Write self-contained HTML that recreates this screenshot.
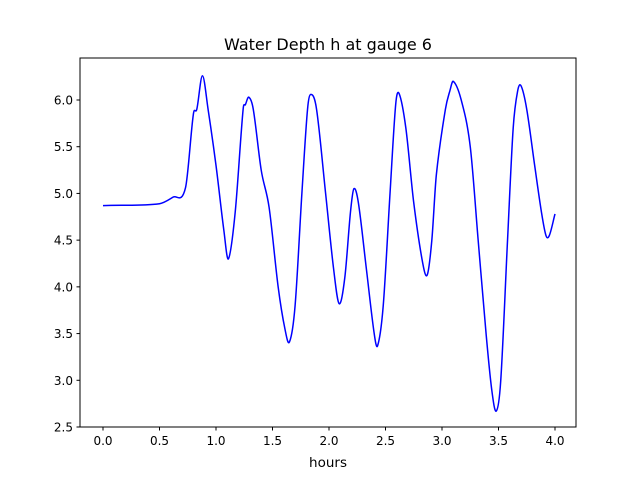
<!DOCTYPE html>
<html><head><meta charset="utf-8"><style>
body{margin:0;background:#fff;}
svg{display:block;font-family:"DejaVu Sans","Liberation Sans",sans-serif;}
</style></head><body>
<svg id="chart" width="640" height="480" viewBox="0 0 640 480" xmlns="http://www.w3.org/2000/svg">
<rect width="640" height="480" fill="#fff"/>
<text x="328" y="50" font-size="16" text-anchor="middle">Water Depth h at gauge 6</text>
<g id="plot"></g>
<rect x="80" y="58" width="496" height="369" fill="none" stroke="#000" stroke-width="1"/>
<text x="328" y="467" font-size="13.5" text-anchor="middle">hours</text>
</svg>
<script>
const hours=[0,0.5,0.62,0.73,0.8,0.83,0.88,0.93,1.0,1.07,1.11,1.17,1.24,1.26,1.29,1.33,1.4,1.47,1.55,1.61,1.65,1.7,1.76,1.81,1.84,1.89,1.97,2.04,2.09,2.14,2.19,2.22,2.26,2.33,2.4,2.43,2.48,2.54,2.59,2.62,2.68,2.75,2.83,2.87,2.91,2.95,3.03,3.07,3.1,3.17,3.25,3.32,3.39,3.44,3.48,3.52,3.58,3.63,3.67,3.7,3.75,3.82,3.88,3.92,3.95,4.0];
const depth=[4.87,4.89,4.96,5.06,5.85,5.9,6.26,5.9,5.3,4.6,4.3,4.8,5.9,5.95,6.03,5.9,5.25,4.85,4.0,3.55,3.41,3.8,5.0,5.9,6.06,5.9,5.0,4.2,3.82,4.1,4.8,5.05,4.9,4.2,3.5,3.37,3.8,5.0,5.95,6.07,5.7,4.9,4.25,4.13,4.5,5.2,5.9,6.1,6.2,6.0,5.5,4.5,3.5,2.9,2.67,3.0,4.5,5.7,6.1,6.15,5.9,5.3,4.8,4.55,4.55,4.78];
const xTicks=[0,0.5,1,1.5,2,2.5,3,3.5,4];
const xTickLabels=["0.0","0.5","1.0","1.5","2.0","2.5","3.0","3.5","4.0"];
const yTicks=[2.5,3,3.5,4,4.5,5,5.5,6];
const yTickLabels=["2.5","3.0","3.5","4.0","4.5","5.0","5.5","6.0"];
const sx=v=>103+v*113;
const sy=v=>427-(v-2.5)*93.43;
const NS="http://www.w3.org/2000/svg";
const g=document.getElementById('plot');
function mk(t,a){const e=document.createElementNS(NS,t);for(const k in a)e.setAttribute(k,a[k]);g.appendChild(e);return e;}
xTicks.forEach((t,i)=>{
 const l=mk('line',{x1:sx(t),x2:sx(t),y1:427,y2:430.5,stroke:'#000'});
 
 
 const tx=mk('text',{x:sx(t),y:445,'font-size':12,'text-anchor':'middle'});
 tx.textContent=xTickLabels[i];
 
 
});
yTicks.forEach((t,i)=>{
 const l=mk('line',{x1:76.5,x2:80,y1:sy(t),y2:sy(t),stroke:'#000'});
 
 
 const tx=mk('text',{x:73,y:sy(t)+4.5,'font-size':12,'text-anchor':'end'});
 tx.textContent=yTickLabels[i];
 
 
});
const P=hours.map((h,i)=>[sx(h),sy(depth[i])]);
const n=P.length;
const m=P.map((p,i)=>{const a=P[Math.max(0,i-1)],b=P[Math.min(n-1,i+1)];return (b[1]-a[1])/(b[0]-a[0]);});
let d='M'+P[0][0]+','+P[0][1];
for(let i=0;i<n-1;i++){
 const p1=P[i],p2=P[i+1],dx=(p2[0]-p1[0])/3;
 d+=` C${p1[0]+dx},${p1[1]+m[i]*dx} ${p2[0]-dx},${p2[1]-m[i+1]*dx} ${p2[0]},${p2[1]}`;
}
const line=mk('path',{d:d,fill:'none',stroke:'#0000ff','stroke-width':1.5});


</script>
</body></html>
